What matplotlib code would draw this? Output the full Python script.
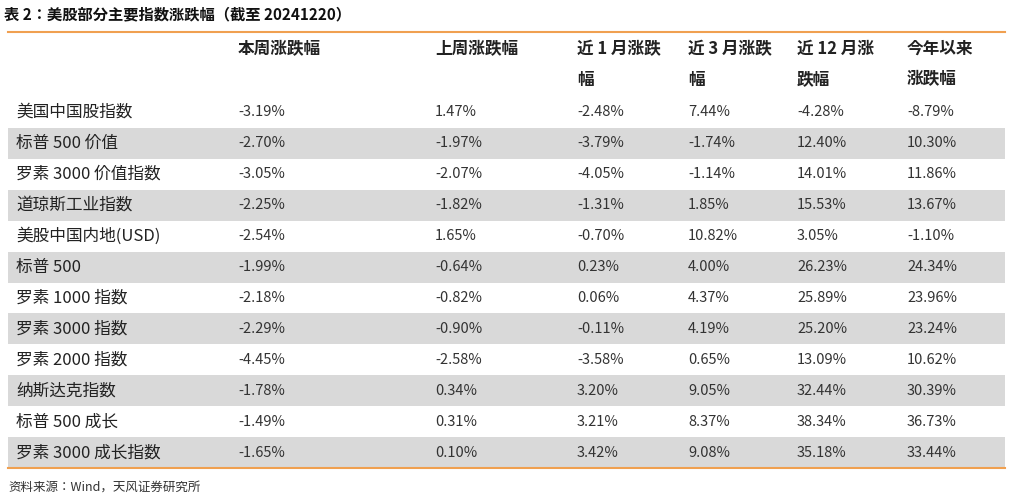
import matplotlib.pyplot as plt
from matplotlib import font_manager
from matplotlib.patches import Rectangle

cjk = sorted({f.name for f in font_manager.fontManager.ttflist if 'CJK' in f.name})
plt.rcParams['font.family'] = ['Noto Sans CJK SC', 'Noto Sans CJK JP'] + cjk + ['DejaVu Sans']

title = "表 2：美股部分主要指数涨跌幅（截至 20241220）"
source = "资料来源：Wind，天风证券研究所"
headers = ["本周涨跌幅", "上周涨跌幅", "近 1 月涨跌\n幅", "近 3 月涨跌\n幅", "近 12 月涨\n跌幅", "今年以来\n涨跌幅"]
names = ["美国中国股指数", "标普 500 价值", "罗素 3000 价值指数", "道琼斯工业指数", "美股中国内地(USD)",
         "标普 500", "罗素 1000 指数", "罗素 3000 指数", "罗素 2000 指数", "纳斯达克指数",
         "标普 500 成长", "罗素 3000 成长指数"]
week = ["-3.19%", "-2.70%", "-3.05%", "-2.25%", "-2.54%", "-1.99%", "-2.18%", "-2.29%", "-4.45%", "-1.78%", "-1.49%", "-1.65%"]
last_week = ["1.47%", "-1.97%", "-2.07%", "-1.82%", "1.65%", "-0.64%", "-0.82%", "-0.90%", "-2.58%", "0.34%", "0.31%", "0.10%"]
m1 = ["-2.48%", "-3.79%", "-4.05%", "-1.31%", "-0.70%", "0.23%", "0.06%", "-0.11%", "-3.58%", "3.20%", "3.21%", "3.42%"]
m3 = ["7.44%", "-1.74%", "-1.14%", "1.85%", "10.82%", "4.00%", "4.37%", "4.19%", "0.65%", "9.05%", "8.37%", "9.08%"]
m12 = ["-4.28%", "12.40%", "14.01%", "15.53%", "3.05%", "26.23%", "25.89%", "25.20%", "13.09%", "32.44%", "38.34%", "35.18%"]
ytd = ["-8.79%", "10.30%", "11.86%", "13.67%", "-1.10%", "24.34%", "23.96%", "23.24%", "10.62%", "30.39%", "36.73%", "33.44%"]

W, H = 1011, 498
fig = plt.figure(figsize=(W / 100, H / 100), dpi=100)
ax = fig.add_axes([0, 0, 1, 1])
ax.set_xlim(0, W)
ax.set_ylim(H, 0)
ax.axis('off')

col_x = [238, 435, 577, 688, 797, 907]
left, right = 8, 1005
top, head_bot, bot = 32, 97, 468
row_h = (bot - head_bot) / len(names)
txt = '#222222'

ax.text(4, 14, title, fontsize=11, fontweight='bold', va='center', ha='left', color='#111111')
for i, h in enumerate(headers):
    ax.text(col_x[i], 40, h, fontsize=12, fontweight='bold', va='top', ha='left', color=txt, linespacing=1.9)

cols = [week, last_week, m1, m3, m12, ytd]
for r, name in enumerate(names):
    y0 = head_bot + r * row_h
    if r % 2 == 1:
        ax.add_patch(Rectangle((left, y0), right - left, row_h, color='#d9d9d9', lw=0))
    yc = y0 + row_h / 2
    ax.text(16, yc, name, fontsize=12, va='center', ha='left', color=txt)
    for c, vals in enumerate(cols):
        ax.text(col_x[c], yc, vals[r], fontsize=10.5, va='center', ha='left', color='#333333')

ax.plot([left, right], [top, top], color='#f0a050', lw=1.5)
ax.plot([left, right], [bot, bot], color='#f0a050', lw=1.5)
ax.text(8, 487, source, fontsize=9, va='center', ha='left', color='#333333')

fig.savefig('out.png', dpi=100)
